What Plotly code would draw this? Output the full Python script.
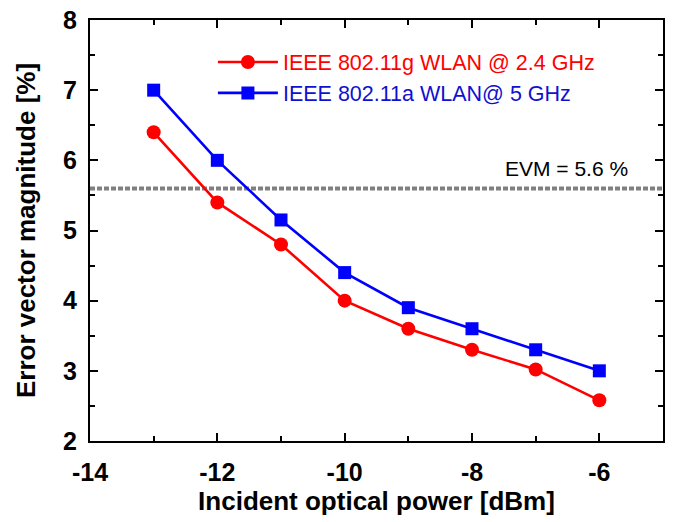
import plotly.graph_objects as go

power_dbm = [-13, -12, -11, -10, -9, -8, -7, -6]
evm_80211g = [6.4, 5.4, 4.8, 4.0, 3.6, 3.3, 3.02, 2.58]
evm_80211a = [7.0, 6.0, 5.15, 4.4, 3.9, 3.6, 3.3, 3.0]
evm_limit = 5.6
x_ticks = [-14, -12, -10, -8, -6]
y_ticks = [2, 3, 4, 5, 6, 7, 8]
x_range = [-14, -5]
y_range = [2, 8]

RED = "#ff0000"
BLUE = "#0000ff"
FONT = "Liberation Sans, Arial, sans-serif"

fig = go.Figure()
fig.add_trace(go.Scatter(
    x=power_dbm, y=evm_80211g, mode="lines+markers",
    name="<span style='color:#ff0000'>IEEE 802.11g WLAN @ 2.4 GHz</span>",
    line=dict(color=RED, width=2.6),
    marker=dict(symbol="circle", size=14, color=RED),
))
fig.add_trace(go.Scatter(
    x=power_dbm, y=evm_80211a, mode="lines+markers",
    name="<span style='color:#1010d0'>IEEE 802.11a WLAN@ 5 GHz</span>",
    line=dict(color=BLUE, width=2.6),
    marker=dict(symbol="square", size=13, color=BLUE),
))

fig.add_shape(type="line", xref="paper", yref="y", x0=0, x1=1,
              y0=evm_limit, y1=evm_limit,
              line=dict(color="#808080", width=4, dash="5px,2px"), layer="below")
fig.add_annotation(xref="paper", yref="y", x=0.942, y=evm_limit, yshift=20,
                   xanchor="right", yanchor="middle", showarrow=False,
                   text=f"EVM = {evm_limit} %",
                   font=dict(family=FONT, size=21, color="#000000"))

tick_common = dict(ticks="inside", ticklen=8, tickwidth=2, tickcolor="black",
                   showgrid=False, zeroline=False, automargin=False)
minor_x = dict(ticks="inside", ticklen=5, tickwidth=2, tickcolor="black", dtick=1, tick0=-14)
minor_y = dict(ticks="inside", ticklen=5, tickwidth=2, tickcolor="black", dtick=0.5, tick0=2)
label_font = dict(family=FONT, size=25, color="black", weight="bold")
title_font = dict(family=FONT, size=26, color="black", weight="bold")

fig.update_layout(
    xaxis=dict(
        range=x_range, tickvals=x_ticks, ticktext=[str(v) for v in x_ticks],
        minor=minor_x,
        title=dict(text="Incident optical power [dBm]", standoff=0, font=title_font),
        tickfont=label_font, ticklabelstandoff=8,
        showline=True, linecolor="black", linewidth=2,
        **tick_common,
    ),
    yaxis=dict(
        range=y_range, tickvals=y_ticks, ticktext=[str(v) for v in y_ticks],
        minor=minor_y,
        title=dict(text="Error vector magnitude [%]", standoff=20, font=title_font),
        tickfont=label_font, ticklabelstandoff=6,
        showline=True, linecolor="black", linewidth=2,
        **tick_common,
    ),
    xaxis2=dict(
        range=x_range, overlaying="x", side="top", matches="x",
        tickvals=x_ticks, showticklabels=False, minor=minor_x,
        showline=True, linecolor="black", linewidth=2,
        **tick_common,
    ),
    yaxis2=dict(
        range=y_range, overlaying="y", side="right", matches="y",
        tickvals=y_ticks, showticklabels=False, minor=minor_y,
        showline=True, linecolor="black", linewidth=2,
        **tick_common,
    ),
    width=676, height=522,
    margin=dict(l=90, r=13, t=20, b=81),
    paper_bgcolor="white", plot_bgcolor="white",
    showlegend=True,
    legend=dict(x=0.2145, y=0.949, xanchor="left", yanchor="top",
                bgcolor="rgba(0,0,0,0)", borderwidth=0,
                font=dict(family=FONT, size=21.5), itemwidth=60,
                tracegroupgap=0),
)

# invisible helper trace so the mirrored top/right axes are drawn
fig.add_trace(go.Scatter(x=[x_range[0]], y=[y_range[0]], xaxis="x2", yaxis="y2",
                         mode="markers", marker=dict(opacity=0), showlegend=False,
                         hoverinfo="skip"))

fig.write_html("out.html")
